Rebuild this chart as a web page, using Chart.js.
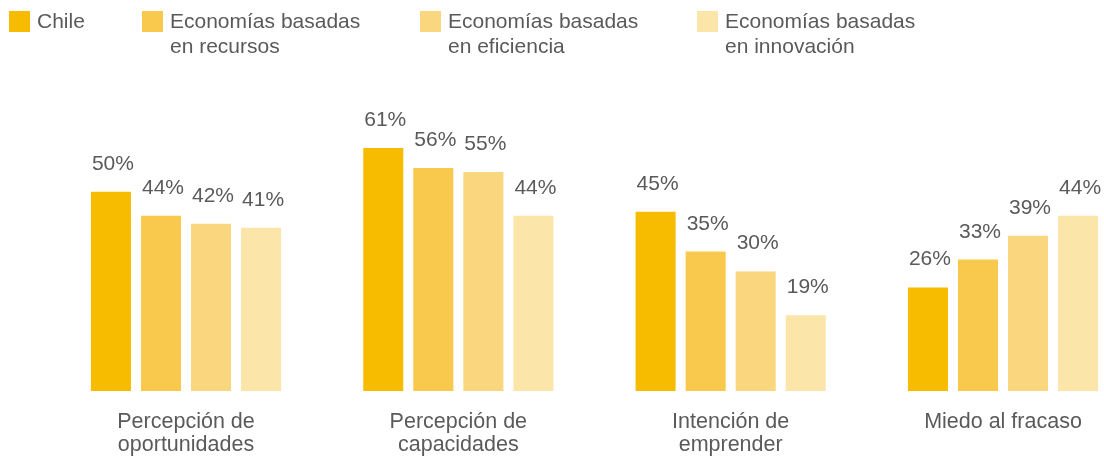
<!DOCTYPE html>
<html>
<head>
<meta charset="utf-8">
<script src="https://cdn.jsdelivr.net/npm/chart.js@4"></script>
<style>
  body { margin: 0; background: #fff; }
  #wrap { position: relative; width: 1104px; height: 456px; }
  #legend { position: absolute; left: 0; top: 0; width: 1104px; height: 70px;
    font-family: "Liberation Sans", Arial, sans-serif; font-size: 21px; line-height: 25px; color: #5a5a5c; }
  .item { position: absolute; top: 0; }
  .box { position: absolute; top: 11px; width: 21px; height: 21px; }
  .txt { position: absolute; top: 8px; white-space: nowrap; }
</style>
</head>
<body>
<div id="wrap">
  <canvas id="chart" width="1104" height="456"></canvas>
  <div id="legend"></div>
</div>
<script>
// chart data
const categories = [
    ['Percepción de', 'oportunidades'],
    ['Percepción de', 'capacidades'],
    ['Intención de', 'emprender'],
    ['Miedo al fracaso']
];
const seriesNames = [
    ['Chile'],
    ['Economías basadas', 'en recursos'],
    ['Economías basadas', 'en eficiencia'],
    ['Economías basadas', 'en innovación']
];
const chile = [50, 61, 45, 26];
const recursos = [44, 56, 35, 33];
const eficiencia = [42, 55, 30, 39];
const innovacion = [41, 44, 19, 44];
const colors = ['#F7BB00', '#F9C94D', '#FAD67F', '#FCE5A9'];

const textColor = '#5a5a5c';
const fontFamily = '"Liberation Sans", Arial, sans-serif';

// html legend (multi-line labels)
const legendX = [9, 142, 420, 697];
const legend = document.getElementById('legend');
seriesNames.forEach((name, i) => {
    const item = document.createElement('div');
    item.className = 'item';
    item.style.left = legendX[i] + 'px';
    item.innerHTML = '<div class="box" style="left:0;background:' + colors[i] + '"></div>' +
        '<div class="txt" style="left:28px">' + name.join('<br>') + '</div>';
    legend.appendChild(item);
});

const valueLabels = {
    id: 'valueLabels',
    afterDatasetsDraw(chart) {
        const ctx = chart.ctx;
        ctx.save();
        ctx.font = '21px ' + fontFamily;
        ctx.fillStyle = textColor;
        ctx.textAlign = 'left';
        ctx.textBaseline = 'alphabetic';
        chart.data.datasets.forEach((ds, di) => {
            const meta = chart.getDatasetMeta(di);
            meta.data.forEach((bar, i) => {
                const left = bar.x - bar.width / 2;
                ctx.fillText(ds.data[i] + '%', left + 1, bar.y - 22);
            });
        });
        ctx.restore();
    }
};

const seriesValues = [chile, recursos, eficiencia, innovacion];

new Chart(document.getElementById('chart'), {
    type: 'bar',
    data: {
        labels: categories,
        datasets: seriesValues.map((vals, i) => ({
            label: seriesNames[i].join(' '),
            data: vals,
            backgroundColor: colors[i],
            borderWidth: 0,
            clip: false,
            categoryPercentage: 0.735,
            barPercentage: 0.8
        }))
    },
    options: {
        responsive: false,
        animation: false,
        layout: {
            padding: { left: 186, right: 101, top: 95, bottom: 0 }
        },
        plugins: {
            legend: { display: false },
            tooltip: { enabled: false }
        },
        scales: {
            x: {
                offset: false,
                grid: { display: false, drawTicks: false },
                border: { display: false },
                ticks: {
                    color: textColor,
                    font: { family: fontFamily, size: 21.5, lineHeight: 1.05 },
                    padding: 20,
                    maxRotation: 0,
                    autoSkip: false
                },
                afterFit: function (axis) {
                    axis.height = 65;
                }
            },
            y: {
                display: false,
                min: 0,
                max: 74.3
            }
        }
    },
    plugins: [valueLabels]
});
</script>
</body>
</html>
